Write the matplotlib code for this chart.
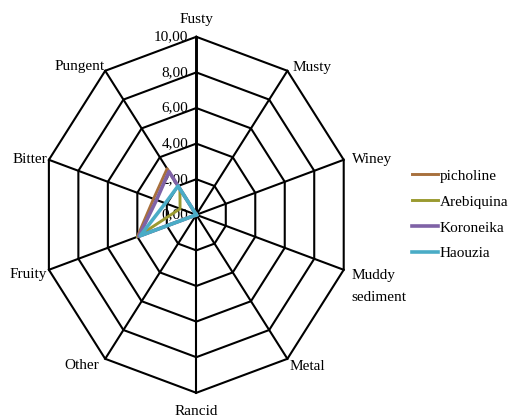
import numpy as np
import matplotlib.pyplot as plt

# sensory attributes, clockwise from the top
categories = ['Fusty', 'Musty', 'Winey', 'Muddy\nsediment', 'Metal',
              'Rancid', 'Other', 'Fruity', 'Bitter', 'Pungent']

picholine = [0, 0, 0, 0, 0, 0, 0, 4.0, 2.9, 3.2]
arebiquina = [0, 0, 0, 0, 0, 0, 0, 4.0, 1.1, 1.8]
koroneika = [0, 0, 0, 0, 0, 0, 0, 3.9, 2.7, 3.0]
haouzia = [0, 0, 0, 0, 0, 0, 0, 3.8, 2.1, 2.0]

series_names = ['picholine', 'Arebiquina', 'Koroneika', 'Haouzia']
series_values = [picholine, arebiquina, koroneika, haouzia]
series_colors = ['#A8703D', '#9A9A30', '#7F62A6', '#4AACC6']
series_widths = [2.1, 2.1, 2.6, 2.6]

ticks = [0, 2, 4, 6, 8, 10]
tick_labels = ['0,00', '2,00', '4,00', '6,00', '8,00', '10,00']

plt.rcParams['font.family'] = ['Liberation Serif', 'DejaVu Serif']

W, H = 515, 418
fig = plt.figure(figsize=(W / 100, H / 100), dpi=100)

# chart centre and radii in pixels (the original is slightly squashed)
cx, cy = 196.3, 214.8
rx, ry = 155.0, 178.0
ax = fig.add_axes([(cx - rx) / W, (H - cy - ry) / H, 2 * rx / W, 2 * ry / H])
ax.set_xlim(-10, 10)
ax.set_ylim(-10, 10)
ax.axis('off')

n = len(categories)
theta = np.arange(n) * 2 * np.pi / n
sx, sy = np.sin(theta), np.cos(theta)

# grid rings
for t in ticks[1:]:
    ax.plot(np.append(sx, sx[0]) * t, np.append(sy, sy[0]) * t,
            color='black', lw=1.5, clip_on=False, zorder=1)
# spokes
for i in range(n):
    ax.plot([0, sx[i] * 10], [0, sy[i] * 10], color='black',
            lw=2.1 if i == 0 else 1.5, clip_on=False, zorder=1)

# value labels along the Fusty axis
for t, lab in zip(ticks, tick_labels):
    ax.annotate(lab, (0, t), xytext=(-8, 0), textcoords='offset pixels',
                ha='right', va='center', fontsize=11, zorder=2)

# category labels: (dx, dy, ha) offsets in pixels from each outer vertex
label_pos = [(0, 17, 'center'), (5, 3, 'left'), (8, 0, 'left'),
             (8, -17, 'left'), (2, -8, 'left'), (0, -19, 'center'),
             (-6, -7, 'right'), (-2, -5, 'right'), (-2, 0, 'right'),
             (-1, 4, 'right')]
for i, lab in enumerate(categories):
    dx, dy, ha = label_pos[i]
    ax.annotate(lab, (sx[i] * 10, sy[i] * 10), xytext=(dx, dy),
                textcoords='offset pixels', ha=ha, va='center',
                fontsize=11, linespacing=1.9, annotation_clip=False)

# series
for name, vals, col, lw in zip(series_names, series_values,
                               series_colors, series_widths):
    v = np.array(vals, dtype=float)
    ax.plot(np.append(sx * v, sx[0] * v[0]), np.append(sy * v, sy[0] * v[0]),
            color=col, lw=lw, label=name, clip_on=False, zorder=3,
            solid_joinstyle='round')

fig.legend(loc='upper left', bbox_to_anchor=(412 / W, (H - 169) / H),
           frameon=False, fontsize=11, borderpad=0, borderaxespad=0,
           handlelength=1.7, handletextpad=0.1, labelspacing=0.8)

fig.savefig('out.png', dpi=100)
